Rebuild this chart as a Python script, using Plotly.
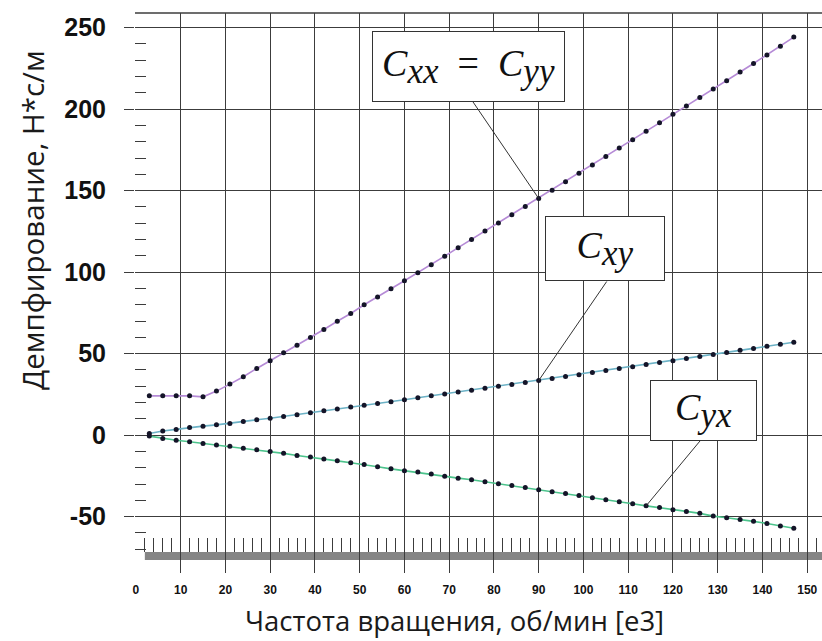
import plotly.graph_objects as go

# ---------------- data ----------------
rpm = [3, 6, 9, 12, 15, 18, 21, 24, 27, 30, 33, 36, 39, 42, 45, 48, 51, 54, 57, 60,
       63, 66, 69, 72, 75, 78, 81, 84, 87, 90, 93, 96, 99, 102, 105, 108, 111, 114,
       117, 120, 123, 126, 129, 132, 135, 138, 141, 144, 147]

c_xx = [24.1, 24.1, 24.1, 24.1, 23.5, 27.0, 31.3, 35.8, 40.9, 45.6, 50.5, 55.2, 59.9,
        64.8, 69.9, 74.6, 80.0, 84.7, 89.8, 94.7, 99.6, 104.6, 109.8, 115.0, 120.1,
        125.2, 130.2, 135.2, 140.2, 145.2, 150.3, 155.4, 160.6, 165.8, 170.9, 176.1,
        181.2, 186.4, 191.6, 196.8, 201.9, 207.1, 212.3, 217.4, 222.8, 228.0, 233.3,
        238.6, 244.2]

c_xy = [1.0, 2.5, 3.5, 4.7, 5.5, 6.3, 7.2, 8.4, 9.4, 10.4, 11.5, 12.5, 13.7, 14.9,
        16.0, 17.2, 18.3, 19.4, 20.5, 21.7, 22.9, 24.1, 25.2, 26.4, 27.6, 28.8, 30.0,
        31.1, 32.3, 33.5, 34.7, 35.9, 37.1, 38.4, 39.6, 40.8, 42.0, 43.3, 44.5, 45.7,
        47.0, 48.2, 49.5, 50.7, 52.0, 53.2, 54.5, 55.7, 57.0]

c_yx = [-0.6, -2.0, -3.1, -4.1, -5.1, -6.1, -6.9, -8.0, -9.0, -10.0, -11.2, -12.5,
        -13.5, -14.7, -15.8, -17.0, -18.0, -19.4, -20.7, -21.9, -22.7, -23.9, -25.2,
        -26.4, -27.4, -28.6, -29.9, -30.9, -32.1, -33.5, -34.8, -35.8, -37.0, -38.4,
        -39.7, -40.9, -42.1, -43.4, -44.4, -45.8, -46.8, -48.0, -49.7, -50.7, -51.7,
        -52.9, -54.2, -55.8, -57.1]

y_ticks = [250, 200, 150, 100, 50, 0, -50]
y_labels = ["250", "200", "150", "100", "50", "0", "-50"]
y_minor = [240, 230, 220, 210, 190, 180, 170, 160, 140, 130, 120, 110, 90, 80, 70, 60,
           40, 30, 20, 10, -10, -20, -30, -40, -60, -70]
x_ticks = [0, 10, 20, 30, 40, 50, 60, 70, 80, 90, 100, 110, 120, 130, 140, 150]
x_labels = ["0", "10", "20", "30", "40", "50", "60", "70", "80", "90", "100", "110",
            "120", "130", "140", "150"]

x_title = "Частота вращения, об/мин [e3]"
y_title = "Демпфирование, Н*с/м"

GRID = "#3c3c3c"
X_RANGE = [-0.2, 153.3]
Y_RANGE = [-84.6, 259.0]

W, H = 822, 641
L, R, T, B = 135, 0, 13, 68
pw, ph = W - L - R, H - T - B
XS = pw / (X_RANGE[1] - X_RANGE[0])   # px per x unit
YS = ph / (Y_RANGE[1] - Y_RANGE[0])   # px per y unit


def px(p):
    return (p - L) / pw


def py(q):
    return (H - B - q) / ph


fig = go.Figure()

series = [
    (c_xx, "#b58ad6"),
    (c_xy, "#6cb2c6"),
    (c_yx, "#4cc38c"),
]
for ys, col in series:
    fig.add_trace(go.Scatter(
        x=rpm, y=ys, mode="lines+markers",
        line=dict(color=col, width=1.6),
        marker=dict(color="#141428", size=5),
        showlegend=False, hoverinfo="skip"))

# helper trace so the overlay tick axis is drawn
fig.add_trace(go.Scatter(x=[rpm[0]], y=[c_xx[0]], xaxis="x2", mode="markers",
                         marker=dict(opacity=0), showlegend=False, hoverinfo="skip"))

# gray scroll bar
fig.add_shape(type="rect", xref="x", yref="paper", x0=2, x1=X_RANGE[1],
              y0=py(560), y1=py(552), fillcolor="#858585", line_width=0, layer="below")
# top border
fig.add_shape(type="line", xref="paper", yref="paper", x0=0, x1=1, y0=1, y1=1,
              line=dict(color=GRID, width=1.4))

# leader lines (from the data point to the label box, offsets in px)
leaders = [
    (rpm[29], c_xx[29], -66, -97),
    (rpm[29], c_xy[29], 68, -99),
    (rpm[37], c_yx[37], 54, -65),
]
for lx, ly, dx, dy in leaders:
    fig.add_shape(type="line", xref="x", yref="y", x0=lx, y0=ly,
                  x1=lx + dx / XS, y1=ly - dy / YS,
                  line=dict(color="#333", width=1), layer="above")


def sub(s):
    return "<sub><span style='font-size:35px'><i>%s</i></span></sub>" % s


math_font = dict(family="Liberation Serif", size=38, color="#111")
boxes = [
    ("<i>C</i>" + sub("xx") + "&nbsp;&nbsp;=&nbsp;&nbsp;<i>C</i>" + sub("yy"),
     468.5, 66.3, 191, 69),
    ("<i>C</i>" + sub("xy"), 604.5, 248.5, 118, 63),
    ("<i>C</i>" + sub("yx"), 703.0, 410.3, 105, 59),
]
for txt, cx, cy, w, h in boxes:
    fig.add_annotation(text=txt, xref="paper", yref="paper", x=px(cx), y=py(cy),
                       xanchor="center", yanchor="middle", showarrow=False,
                       width=w, height=h, bgcolor="white", bordercolor="#333",
                       borderwidth=1, borderpad=0, font=math_font)

# axis titles
fig.add_annotation(text=x_title, xref="paper", yref="paper", x=px(454.5), y=py(620),
                   xanchor="center", yanchor="middle", showarrow=False,
                   font=dict(family="Open Sans", size=27.5, color="#1a1a1a"))
fig.add_annotation(text=y_title, xref="paper", yref="paper", x=px(32), y=py(220),
                   xanchor="center", yanchor="middle", showarrow=False,
                   font=dict(family="Open Sans", size=29.5, color="#1a1a1a"),
                   textangle=-90)

fig.update_layout(
    width=W, height=H,
    margin=dict(l=L, r=R, t=T, b=B),
    paper_bgcolor="white", plot_bgcolor="white",
    xaxis=dict(range=X_RANGE, tickvals=x_ticks,
               ticktext=["<b>%s</b>" % t for t in x_labels],
               showgrid=True, gridcolor=GRID,
               gridwidth=1.4, zeroline=False, showline=False, ticks="",
               ticklabelstandoff=8,
               tickfont=dict(family="Liberation Sans", size=12, color="#111")),
    xaxis2=dict(range=X_RANGE, overlaying="x", anchor="free", position=py(552),
                side="bottom", tick0=0, dtick=2, ticks="inside", ticklen=14,
                tickwidth=1.2, tickcolor=GRID, showticklabels=False, showgrid=False,
                zeroline=False, showline=False),
    yaxis=dict(range=Y_RANGE, tickvals=y_ticks,
               ticktext=["<b>%s</b>" % t for t in y_labels],
               showgrid=True, gridcolor=GRID,
               gridwidth=1.4, zeroline=False, showline=False, ticks="outside",
               ticklen=10, tickwidth=1.4, tickcolor=GRID, ticklabelstandoff=13,
               tickfont=dict(family="Liberation Sans", size=25, color="#111"),
               minor=dict(tickvals=y_minor, ticks="inside", ticklen=11,
                          tickwidth=1.2, tickcolor=GRID, showgrid=False)),
)

fig.write_html("out.html")
